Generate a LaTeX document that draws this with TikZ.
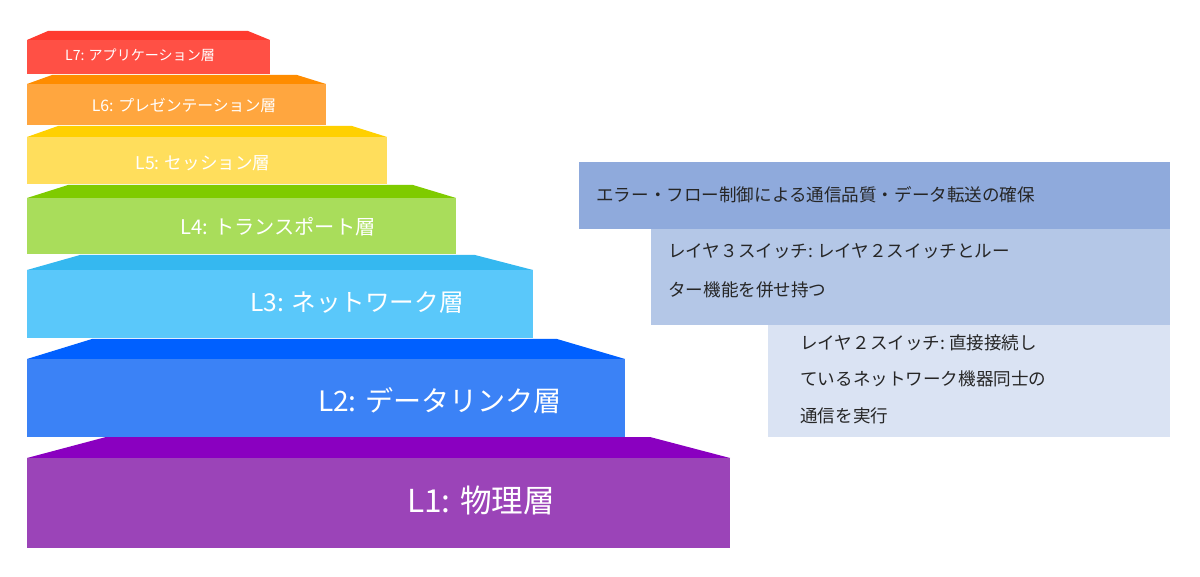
\documentclass[tikz,border=0pt]{standalone}
\usepackage{fontspec}
\setmainfont{Noto Sans CJK JP}
\usetikzlibrary{positioning}
\definecolor{redbody}{HTML}{FF5045}\definecolor{redtop}{HTML}{FF3B30}
\definecolor{orabody}{HTML}{FFA63F}\definecolor{oratop}{HTML}{FF8C00}
\definecolor{yelbody}{HTML}{FFDE5C}\definecolor{yeltop}{HTML}{FFD000}
\definecolor{grnbody}{HTML}{A9DD5B}\definecolor{grntop}{HTML}{7FCB00}
\definecolor{cyabody}{HTML}{5AC8FA}\definecolor{cyatop}{HTML}{35B8F0}
\definecolor{blubody}{HTML}{3B82F6}\definecolor{blutop}{HTML}{0060FF}
\definecolor{purbody}{HTML}{9B44B8}\definecolor{purtop}{HTML}{8A00C0}
\definecolor{boxa}{HTML}{8FAADC}\definecolor{boxb}{HTML}{B4C7E7}\definecolor{boxc}{HTML}{DAE3F3}
\tikzset{
  layertext/.style={text=white},
  desctext/.style={text=black!85, anchor=west, inner sep=0pt}
}
\begin{document}
\begin{tikzpicture}[x=0.02cm,y=-0.02cm]
\useasboundingbox (0,0) rectangle (1200,577);

% L7
\fill[redtop] (27,40) -- (48,31) -- (248,31) -- (270,40) -- cycle;
\fill[redbody] (27,40) rectangle (270,74);
\node[layertext, font=\fontsize{8}{9}\selectfont] (l7) at (140,55) {L7: アプリケーション層};
% L6
\fill[oratop] (27,84) -- (52,75) -- (297,75) -- (326,84) -- cycle;
\fill[orabody] (27,84) rectangle (326,125);
\node[layertext, font=\fontsize{9}{10}\selectfont] (l6) at (184,106) {L6: プレゼンテーション層};
% L5
\fill[yeltop] (27,137) -- (58,126) -- (352,126) -- (387,137) -- cycle;
\fill[yelbody] (27,137) rectangle (387,184);
\node[layertext, font=\fontsize{10}{11}\selectfont] (l5) at (203,163) {L5: セッション層};
% L4
\fill[grntop] (27,198) -- (68,185) -- (413,185) -- (456,198) -- cycle;
\fill[grnbody] (27,198) rectangle (456,254);
\node[layertext, font=\fontsize{11.5}{13}\selectfont] (l4) at (278,227) {L4: トランスポート層};
% L3
\fill[cyatop] (27,270) -- (80,255) -- (475,255) -- (533,270) -- cycle;
\fill[cyabody] (27,270) rectangle (533,338);
\node[layertext, font=\fontsize{14}{16}\selectfont] (l3) at (357,303) {L3: ネットワーク層};
% L2
\fill[blutop] (27,359) -- (92,339) -- (557,339) -- (625,359) -- cycle;
\fill[blubody] (27,359) rectangle (625,437);
\node[layertext, font=\fontsize{16}{18}\selectfont] (l2) at (440,401) {L2: データリンク層};
% L1
\fill[purtop] (27,458) -- (106,437) -- (650,437) -- (730,458) -- cycle;
\fill[purbody] (27,458) rectangle (730,548);
\node[layertext, font=\fontsize{18}{20}\selectfont] (l1) at (481,500) {L1: 物理層};

% description boxes
\fill[boxa] (579,162) rectangle (1170,229);
\fill[boxb] (651,229) rectangle (1170,325);
\fill[boxc] (768,325) rectangle (1170,437);

\node[desctext, font=\fontsize{10}{12}\selectfont] (da) at (596,195) {エラー・フロー制御による通信品質・データ転送の確保};
\node[desctext, font=\fontsize{10}{12}\selectfont] (db1) at (668,251) {レイヤ３スイッチ:\ レイヤ２スイッチとルー};
\node[desctext, font=\fontsize{10}{12}\selectfont, below=13pt of db1.south west, anchor=north west] (db2) {ター機能を併せ持つ};
\node[desctext, font=\fontsize{10}{12}\selectfont] (dc1) at (800,343) {レイヤ２スイッチ:\ 直接接続し};
\node[desctext, font=\fontsize{10}{12}\selectfont, below=11pt of dc1.south west, anchor=north west] (dc2) {ているネットワーク機器同士の};
\node[desctext, font=\fontsize{10}{12}\selectfont, below=11pt of dc2.south west, anchor=north west] (dc3) {通信を実行};
\end{tikzpicture}
\end{document}
